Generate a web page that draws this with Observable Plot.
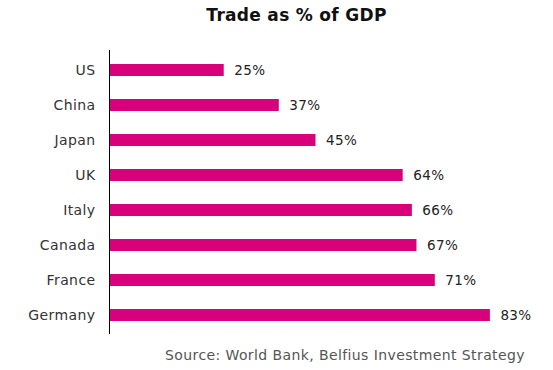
<!DOCTYPE html>
<html><head><meta charset="utf-8">
<script src="https://cdn.jsdelivr.net/npm/d3@7"></script>
<script src="https://cdn.jsdelivr.net/npm/@observablehq/plot@0.6"></script>
<style>
body{margin:0;background:#fff;font-family:"DejaVu Sans",sans-serif;}
#wrap{width:553px;height:370px;position:relative;}
#title{position:absolute;left:0;top:5px;width:553px;padding-left:40px;box-sizing:border-box;text-align:center;font-weight:700;font-size:17px;letter-spacing:0.3px;color:#111;}
#chart{position:absolute;left:0;top:40px;}
#cap{position:absolute;right:28px;top:347px;font-size:14px;letter-spacing:0.4px;color:#555;}
svg text{letter-spacing:0.4px;}
</style></head>
<body><div id="wrap">
<div id="title">Trade as % of GDP</div>
<div id="chart"></div>
<div id="cap">Source: World Bank, Belfius Investment Strategy</div>
</div>
<script>
const countries = ["US","China","Japan","UK","Italy","Canada","France","Germany"];
const values = [25,37,45,64,66,67,71,83];
const data = countries.map((c,i)=>({country:c,value:values[i]}));
const pink = "#d9007b";
const chart = Plot.plot({
  width:553, height:300,
  marginLeft:109, marginRight:31, marginTop:10, marginBottom:6,
  style:{fontFamily:"DejaVu Sans, sans-serif", fontSize:"14px", color:"#333"},
  x:{domain:[0,90], axis:null},
  y:{domain:countries, paddingInner:0.66, paddingOuter:0.32, label:null, tickSize:0, tickPadding:14},
  marks:[
    Plot.barX(data,{x:"value", y:"country", fill:pink}),
    Plot.text(data,{x:"value", y:"country", text:d=>d.value+"%", textAnchor:"start", dx:10, fill:"#222", fontSize:13.5}),
    Plot.ruleX([0],{stroke:"#000", strokeWidth:1})
  ]
});
document.getElementById("chart").appendChild(chart);
</script>
</body></html>
